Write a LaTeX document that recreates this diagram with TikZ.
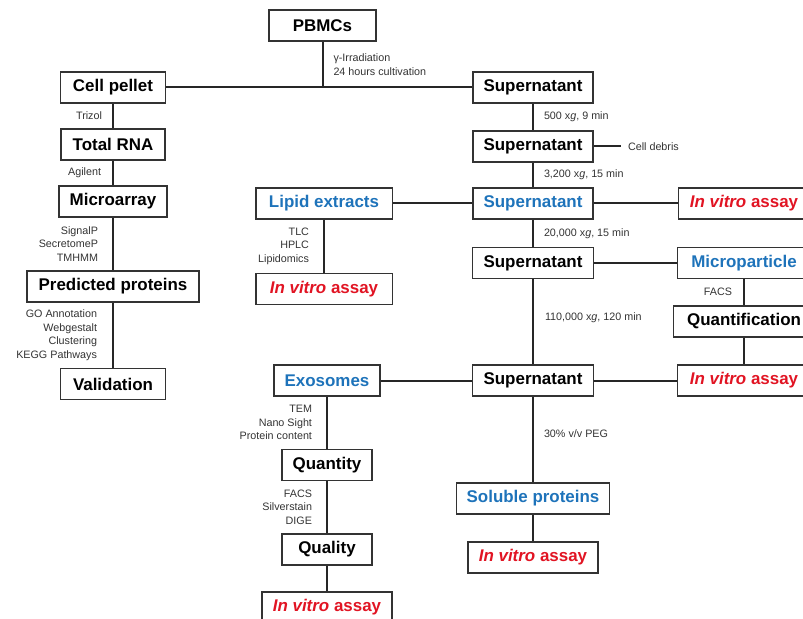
\documentclass[tikz,border=0pt]{standalone}
\usepackage{fontspec}
\setmainfont{Liberation Sans}
\setsansfont{Liberation Sans}
\usepackage{xcolor}

\definecolor{boxblue}{RGB}{30,115,186}
\definecolor{boxred}{RGB}{225,20,35}
\newcommand{\invitro}{\textcolor{boxred}{\textit{In vitro} assay}}

\begin{document}
\begin{tikzpicture}[x=1bp, y=-1bp, font=\sffamily,
	box/.style={draw=black!80, line width=1.5bp, minimum width=#1, minimum height=31bp, inner sep=0pt, font=\fontsize{17}{20}\selectfont\bfseries},
	lbl/.style={font=\fontsize{10.8}{13.5}\selectfont, text=black!80, inner sep=0pt, align=right},
	con/.style={line width=2bp, black!85}]
	\useasboundingbox (0,0) rectangle (803,619);
	\clip (0,0) rectangle (803,619);

	% left column
	\node[box=107] (pbmc)	at (322.5,25.5)	{PBMCs};
	\node[box=105] (cell)	at (113,87.5)	{Cell pellet};
	\node[box=104] (rna)	at (113,144.5)	{Total RNA};
	\node[box=108] (marray)	at (113,201.5)	{Microarray};
	\node[box=173] (pred)	at (113,286.5)	{Predicted proteins};
	\node[box=105] (valid)	at (113,384)	{Validation};

	% centre column
	\node[box=120] (sup1)	at (533,87.5)	{Supernatant};
	\node[box=120] (sup2)	at (533,146.5)	{Supernatant};
	\node[box=120] (sup3)	at (533,203.5)	{\color{boxblue}Supernatant};
	\node[box=121] (sup4)	at (533,263)	{Supernatant};
	\node[box=121] (sup5)	at (533,380.5)	{Supernatant};
	\node[box=154] (sol)	at (533,498.5)	{\color{boxblue}Soluble proteins};
	\node[box=130] (ivsol)	at (533,557.5)	{\invitro};

	% lipids and exosomes
	\node[box=137] (lipid)	at (324,203.5)	{\color{boxblue}Lipid extracts};
	\node[box=137] (ivlip)	at (324,289)	{\invitro};
	\node[box=106] (exo)	at (327,380.5)	{\color{boxblue}Exosomes};
	\node[box=90] (qty)	at (327,465)	{Quantity};
	\node[box=90] (qual)	at (327,549.5)	{Quality};
	\node[box=130] (ivbot)	at (327,607.5)	{\invitro};

	% right column, cut at the edge
	\node[box=132] (ivtop)	at (744,203.5)	{\invitro};
	\node[box=134] (mp)	at (744,263)	{\color{boxblue}Microparticle};
	\node[box=142] (quant)	at (744,321.5)	{Quantification};
	\node[box=134] (ivmid)	at (744,380.5)	{\invitro};

	\coordinate (debris) at (621,146.5);

	% connectors
	\draw[con] (pbmc) -- node[lbl, right=10bp, align=left]{γ-Irradiation\\24 hours cultivation} (pbmc.south |- cell.east);
	\draw[con] (cell) -- (sup1);
	\draw[con] (cell) -- node[lbl, left=10bp]{Trizol} (rna);
	\draw[con] (rna) -- node[lbl, left=11bp]{Agilent} (marray);
	\draw[con] (marray) -- node[lbl, left=14bp]{SignalP\\SecretomeP\\TMHMM} (pred);
	\draw[con] (pred) -- node[lbl, left=15bp]{GO Annotation\\Webgestalt\\Clustering\\KEGG Pathways} (valid);

	\draw[con] (sup1) -- node[lbl, right=10bp]{500 x\textit{g}, 9 min} (sup2);
	\draw[con] (sup2) -- (debris) node[lbl, right=6bp]{Cell debris};
	\draw[con] (sup2) -- node[lbl, right=10bp]{3,200 x\textit{g}, 15 min} (sup3);
	\draw[con] (lipid) -- (sup3);
	\draw[con] (sup3) -- (ivtop);
	\draw[con] (lipid) -- node[lbl, left=14bp]{TLC\\HPLC\\Lipidomics} (ivlip);
	\draw[con] (sup3) -- node[lbl, right=10bp]{20,000 x\textit{g}, 15 min} (sup4);
	\draw[con] (sup4) -- (mp);
	\draw[con] (mp) -- node[lbl, left=11bp]{FACS} (quant);
	\draw[con] (quant) -- (ivmid);
	\draw[con] (sup4) -- node[lbl, right=11bp, pos=0.45]{110,000 x\textit{g}, 120 min} (sup5);
	\draw[con] (exo) -- (sup5);
	\draw[con] (sup5) -- (ivmid);
	\draw[con] (exo) -- node[lbl, left=14bp]{TEM\\Nano Sight\\Protein content} (qty);
	\draw[con] (qty) -- node[lbl, left=14bp]{FACS\\Silverstain\\DIGE} (qual);
	\draw[con] (qual) -- (ivbot);
	\draw[con] (sup5) -- node[lbl, right=10bp, pos=0.43]{30\% v/v PEG} (sol);
	\draw[con] (sol) -- (ivsol);
\end{tikzpicture}
\end{document}
